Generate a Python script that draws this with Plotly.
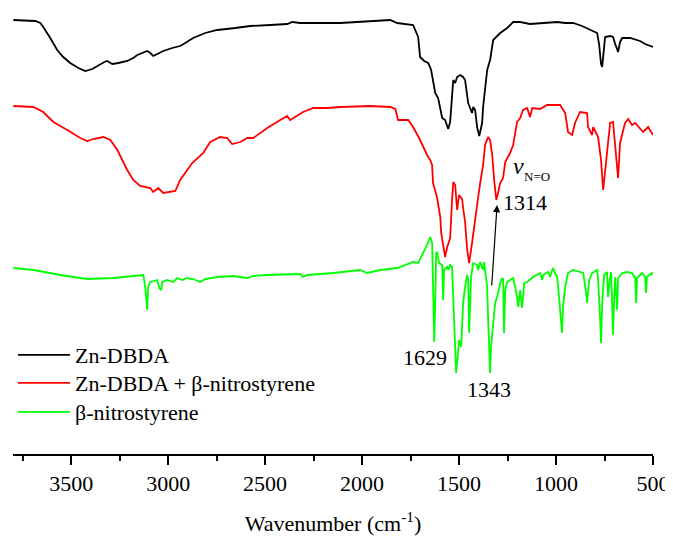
import plotly.graph_objects as go

# ---- data (wavenumber in cm^-1, transmittance in arbitrary units, offset traces) ----
zn_wn = [3798, 3685, 3659, 3644, 3608, 3572, 3541, 3505, 3463, 3427, 3391, 3350, 3329, 3314, 3288,
         3257, 3211, 3180, 3159, 3134, 3108, 3092, 3077, 3056, 3025, 2979, 2938, 2912, 2871, 2809,
         2747, 2654, 2577, 2474, 2386, 2360, 2319, 2113, 1958, 1855, 1819, 1737, 1711, 1701, 1680,
         1659, 1644, 1634, 1623, 1608, 1597, 1587, 1572, 1561, 1556, 1546, 1536, 1530, 1520, 1510,
         1494, 1479, 1469, 1458, 1453, 1433, 1427, 1417, 1407, 1396, 1381, 1376, 1366, 1355, 1340,
         1324, 1288, 1252, 1221, 1185, 1134, 1082, 1031, 994, 953, 912, 866, 824, 788, 778,
         768, 762, 757, 747, 721, 706, 695, 685, 680, 670, 659, 618, 567, 541, 500]
zn_t = [434, 433, 431, 427, 416, 404, 397, 391, 386, 383, 385, 390, 392, 393, 390,
        391, 393, 396, 399, 401, 403, 401, 398, 400, 403, 406, 408, 411, 416, 421,
        424, 426, 428, 429, 430, 432, 431, 431, 433, 434, 431, 429, 417, 397, 393,
        391, 384, 374, 361, 356, 347, 336, 334, 326, 325, 332, 357, 374, 371, 377,
        379, 377, 374, 361, 351, 341, 347, 344, 327, 318, 331, 347, 364, 384, 394,
        414, 421, 426, 432, 432, 430, 431, 432, 432, 431, 431, 428, 424, 421, 410,
        390, 387, 395, 417, 418, 417, 410, 403, 402, 412, 416, 416, 413, 410, 407]

mix_wn = [3798, 3695, 3644, 3592, 3520, 3453, 3417, 3386, 3335, 3298, 3262, 3237, 3211, 3180, 3144,
          3092, 3077, 3051, 3025, 2963, 2938, 2876, 2819, 2783, 2732, 2695, 2670, 2628, 2592, 2561,
          2489, 2422, 2386, 2371, 2355, 2304, 2252, 2180, 2113, 1958, 1855, 1829, 1814, 1762, 1737,
          1701, 1665, 1649, 1639, 1634, 1613, 1608, 1597, 1592, 1582, 1572, 1561, 1546, 1536, 1530,
          1520, 1510, 1500, 1484, 1479, 1469, 1458, 1448, 1433, 1417, 1402, 1391, 1376, 1366, 1350,
          1340, 1329, 1319, 1308, 1299, 1288, 1273, 1262, 1237, 1221, 1201, 1185, 1170, 1149, 1134,
          1123, 1082, 1046, 979, 953, 938, 917, 902, 876, 840, 835, 814, 809, 783, 768,
          757, 742, 721, 706, 695, 680, 670, 644, 628, 608, 592, 567, 551, 525, 500]
mix_t = [348, 347, 342, 332, 324, 316, 313, 315, 317, 314, 304, 294, 284, 274, 268,
         266, 262, 266, 261, 263, 274, 291, 301, 312, 317, 316, 310, 312, 316, 316,
         326, 334, 338, 334, 336, 342, 346, 346, 347, 348, 347, 345, 334, 334, 327,
         314, 299, 294, 289, 271, 256, 251, 237, 221, 209, 197, 207, 216, 254, 272,
         269, 244, 259, 255, 246, 232, 204, 191, 211, 237, 256, 271, 289, 309, 317,
         314, 299, 274, 254, 261, 271, 276, 292, 301, 309, 332, 336, 344, 346, 337,
         346, 345, 349, 349, 341, 322, 319, 331, 342, 341, 327, 319, 327, 317, 294,
         264, 294, 331, 332, 311, 276, 311, 331, 335, 329, 331, 326, 322, 327, 319]

ns_wn = [3798, 3695, 3556, 3417, 3283, 3128, 3118, 3108, 3103, 3092, 3056, 3046, 3036, 3030, 3005,
         2974, 2953, 2927, 2902, 2871, 2835, 2809, 2747, 2664, 2592, 2561, 2489, 2319, 2304, 2283,
         2149, 2010, 1974, 1907, 1819, 1768, 1737, 1711, 1685, 1665, 1649, 1639, 1634, 1628, 1623,
         1618, 1613, 1603, 1587, 1582, 1577, 1561, 1556, 1546, 1536, 1530, 1520, 1515, 1505, 1500,
         1489, 1479, 1469, 1458, 1453, 1448, 1438, 1427, 1407, 1402, 1391, 1376, 1371, 1355, 1350,
         1345, 1340, 1335, 1324, 1314, 1304, 1293, 1283, 1273, 1268, 1262, 1252, 1237, 1221, 1211,
         1201, 1195, 1185, 1175, 1164, 1149, 1118, 1082, 1072, 1067, 1041, 1031, 1020, 1015, 1005,
         994, 989, 979, 969, 964, 953, 938, 912, 876, 860, 845, 840, 829, 814, 788,
         783, 773, 768, 762, 752, 737, 732, 721, 716, 711, 706, 701, 695, 685, 680,
         659, 634, 608, 592, 587, 582, 556, 541, 536, 531, 505, 500]
ns_t = [186, 184, 179, 175, 176, 179, 167, 144, 167, 172, 174, 166, 164, 172, 174,
        172, 176, 174, 176, 175, 172, 175, 177, 178, 176, 178, 179, 180, 177, 179,
        181, 184, 181, 184, 186, 190, 192, 191, 201, 209, 217, 211, 167, 112, 151,
        201, 202, 191, 189, 154, 184, 187, 184, 189, 187, 151, 101, 81, 101, 114,
        107, 151, 167, 179, 174, 121, 177, 191, 189, 184, 192, 184, 192, 167, 134,
        94, 81, 107, 134, 151, 157, 167, 174, 176, 121, 164, 172, 174, 176, 167,
        157, 147, 164, 146, 171, 172, 177, 181, 174, 179, 182, 177, 184, 186, 181,
        177, 167, 147, 121, 147, 167, 181, 184, 182, 181, 161, 151, 174, 181, 184,
        174, 137, 111, 151, 179, 182, 157, 177, 182, 151, 119, 151, 177, 144, 176,
        181, 182, 181, 176, 151, 176, 181, 177, 161, 177, 181, 179]

names = ["Zn-DBDA", "Zn-DBDA + β-nitrostyrene", "β-nitrostyrene"]
colors = ["#000000", "#ff0000", "#00ff00"]
legend_ids = ["legend", "legend2", "legend3"]
legend_tops = [0.269, 0.2063, 0.1413]

FONT = "Liberation Serif, Times New Roman, DejaVu Serif, serif"

fig = go.Figure()
for wn, t, name, col, lg in [(zn_wn, zn_t, names[0], colors[0], legend_ids[0]),
                             (mix_wn, mix_t, names[1], colors[1], legend_ids[1]),
                             (ns_wn, ns_t, names[2], colors[2], legend_ids[2])]:
    fig.add_trace(go.Scatter(x=wn, y=t, mode="lines", name=name, legend=lg,
                             line=dict(color=col, width=1.8)))

# annotations
fig.add_annotation(x=1675, y=97, text="1629", showarrow=False,
                   font=dict(family=FONT, size=22, color="black"))
fig.add_annotation(x=1345, y=65, text="1343", showarrow=False,
                   font=dict(family=FONT, size=22, color="black"))
fig.add_annotation(x=1159, y=252, text="1314", showarrow=False,
                   font=dict(family=FONT, size=22, color="black"))
fig.add_annotation(x=1195, y=288, text="<i>ν</i>", showarrow=False,
                   font=dict(family=FONT, size=24, color="black"))
fig.add_annotation(x=1097, y=278, text="N=O", showarrow=False,
                   font=dict(family=FONT, size=13, color="black"))
fig.add_annotation(x=1304, y=249, ax=1332, ay=167, axref="x", ayref="y",
                   xref="x", yref="y", text="", showarrow=True,
                   arrowhead=2, arrowsize=1.2, arrowwidth=1.2, arrowcolor="black")

legend_style = dict(xanchor="left", yanchor="top", x=0.0,
                    bgcolor="rgba(0,0,0,0)", itemwidth=52,
                    font=dict(family=FONT, size=22, color="black"))

fig.update_layout(
    width=665, height=528,
    margin=dict(l=5, r=20, t=0, b=82),
    paper_bgcolor="white", plot_bgcolor="white",
    font=dict(family=FONT, size=22, color="black"),
    showlegend=True,
    legend=dict(y=legend_tops[0], **legend_style),
    legend2=dict(y=legend_tops[1], **legend_style),
    legend3=dict(y=legend_tops[2], **legend_style),
    xaxis=dict(range=[3800, 500], showline=True, linecolor="black", linewidth=1.5,
               ticks="outside", ticklen=9, tickwidth=1.5, tickcolor="black",
               dtick=500, tick0=500, showgrid=False, zeroline=False,
               tickfont=dict(family=FONT, size=22, color="black"),
               minor=dict(ticks="outside", ticklen=5, tickwidth=1.5, tickcolor="black",
                          dtick=250, showgrid=False),
               title=dict(text="Wavenumber (cm<sup>-1</sup>)", standoff=21,
                          font=dict(family=FONT, size=22, color="black"))),
    yaxis=dict(range=[0, 446], visible=False, showgrid=False, zeroline=False),
)

fig.write_html("out.html")
